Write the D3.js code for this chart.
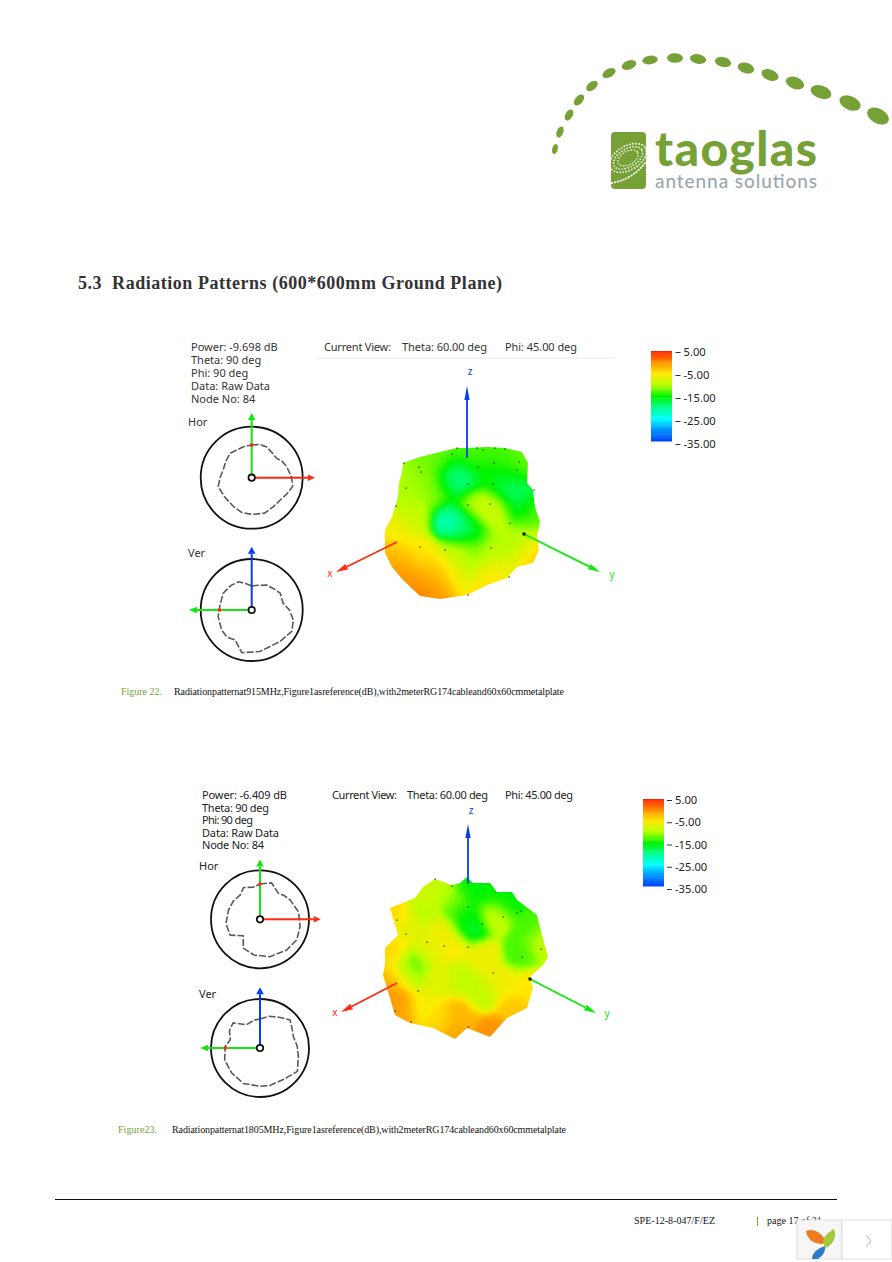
<!DOCTYPE html>
<html><head><meta charset="utf-8"><title>Radiation patterns</title>
<script src="https://cdn.jsdelivr.net/npm/d3@7"></script>
<style>html,body{margin:0;background:#fff}svg{display:block}</style></head>
<body><svg id="c" width="892" height="1262" viewBox="0 0 892 1262"></svg>
<script>
// ---- colour bar ----
const barTicks = [5, -5, -15, -25, -35];
const colorDb = [5, 0, -5, -10, -15, -20, -25, -30, -35];
const colorHex = ["#ff2400","#ff9400","#ffea00","#b4ff00","#00f400","#00ff90","#00ffff","#0090ff","#0040ff"];

// ---- polar cuts: [angle deg clockwise from up, radius as fraction of outer ring] ----
const hor22 = [[0,.64],[13,.67],[26,.67],[40,.63],[52,.62],[62,.68],[72.5,.72],[89,.78],[102,.82],[115,.76],[128,.71],[143,.71],[160,.74],[180,.72],[196,.71],[212,.67],[234,.65],[255,.68],[270,.62],[285,.58],[302,.6],[318,.64],[345,.63]];
const ver22 = [[0,.47],[14,.5],[31,.57],[46,.6],[59.5,.65],[78,.63],[90,.74],[103.5,.84],[118,.89],[138,.83],[155,.8],[169,.83],[193,.86],[209,.67],[222,.72],[236,.71],[259,.67],[276,.63],[300,.65],[320,.63],[335,.61],[346,.54]];
const hor23 = [[0,.72],[17.6,.78],[35,.65],[45,.69],[57,.73],[79,.80],[100,.83],[119,.86],[139,.83],[165,.79],[190,.74],[210,.68],[225.6,.48],[242,.69],[263,.70],[286,.67],[305,.66],[321,.64],[332.5,.73],[348,.67]];
const ver23 = [[0,.59],[15,.67],[30,.73],[47,.84],[60,.76],[71,.72],[87,.76],[102,.80],[122,.90],[143.6,.80],[165,.79],[180,.78],[205,.80],[229,.77],[251.6,.76],[273,.71],[285.5,.63],[300,.72],[313,.75],[330,.55],[348,.58]];

// ---- 3-D view: outlines, sample points [u, v, dB], mesh nodes ----
const outline22 = [[-1,-58],[-10,-58],[-27,-54],[-47,-49],[-64,-43],[-65,-33],[-68,-23],[-69,-9],[-72,1],[-75,11],[-82,24],[-82,47],[-75,61],[-64,74],[-47,90],[-27,93],[0,89],[20,79],[40,72],[50,61],[66,57],[72,44],[70,31],[73,16],[68,1],[66,-16],[60,-23],[61,-43],[55,-54],[38,-58],[20,-59]];
const gain22 = [[-30,-45,-12],[0,-50,-13],[30,-50,-13],[50,-40,-12],[-14,-29,-20],[-8,-25,-20],[43,-19,-20],[20,-33,-15],[35,-30,-16],[-47,-26,-11],[-64,-16,-10],[-30,-15,-11],[3,-3,-8],[26,1,-8],[53,-3,-17],[66,7,-12],[-17,14,-23],[-10,18,-21],[0,24,-15],[-54,11,-9],[-70,24,-6],[-74,44,-3],[-47,47,-5],[-14,44,-8],[3,51,-11],[30,41,-10],[53,34,-10],[66,47,-3],[36,64,-6],[20,71,-5],[0,74,-9],[-27,87,0],[-47,84,1],[-64,67,0],[-40,67,-2],[-20,70,-4],[10,84,-2],[-78,55,-1]];
const nodes22 = [[-10,-58],[-15,-52],[10,-58],[16,-56],[28,-58],[38,-57],[52,-44],[-63,-43],[-48,-39],[-46,-34],[11,-39],[27,-43],[50,-36],[1,-22],[26,-22],[-61,-18],[67,-16],[1,-1],[23,-2],[-71,0],[43,17],[-47,41],[-22,44],[24,42],[42,71],[1,89]];
const outline23 = [[-1,-71],[-8,-65],[-16,-63],[-33,-69],[-45,-61],[-53,-50],[-78,-40],[-73,-23],[-70,-13],[-83,0],[-83,17],[-85,27],[-78,50],[-73,67],[-58,75],[-35,80],[-13,91],[-1,80],[22,89],[39,70],[59,60],[65,40],[62,29],[75,17],[80,9],[74,-13],[69,-33],[49,-48],[44,-56],[29,-56],[22,-65],[5,-65]];
const gain23 = [[-1,-63,-15],[-31,-63,-9],[19,-56,-15],[39,-48,-15],[-15,-40,-14],[2,-20,-17],[-2,-30,-15],[-48,-40,-10],[-20,-50,-10],[-40,-50,-8],[-71,-36,-4],[-28,-20,-6],[-61,-23,-7],[25,-33,-9],[59,-20,-13],[72,-6,-9],[52,4,-13],[-15,-3,-5],[12,7,-6],[-38,0,-7],[-58,17,-13],[-76,4,-4],[-71,30,-2],[-58,27,-10],[-8,27,-9],[-31,30,-7],[32,34,-6],[59,37,-5],[12,44,-9],[-48,54,-6],[-68,60,-1],[-71,50,0],[-31,70,-4],[-8,67,-2],[22,84,0],[45,60,-3],[-15,87,-1]];
const nodes23 = [[-33,-69],[-16,-62],[0,-41],[14,-24],[35,-31],[49,-35],[53,-37],[-71,-28],[-62,-14],[-41,-6],[-24,-2],[0,-1],[73,1],[54,9],[25,25],[-50,43],[-73,63],[-57,74],[0,79]];

// ---- 3-D axis ends: [name, inner u, inner v, tip u, tip v] ----
const axes22 = [["z",0,-48,0,-120],["x",-70,36,-131,66],["y",57,28,133,66]];
const axes23 = [["z",0,-64,0,-124],["x",-71,35,-127,64],["y",62,31,128,65]];

// ---- texts ----
const info22 = ["Power: -9.698 dB","Theta: 90 deg","Phi: 90 deg","Data: Raw Data","Node No: 84"];
const info23 = ["Power: -6.409 dB","Theta: 90 deg","Phi: 90 deg","Data: Raw Data","Node No: 84"];
const heading = "5.3  Radiation Patterns (600*600mm Ground Plane)";
const cap22 = "Radiationpatternat915MHz,Figure1asreference(dB),with2meterRG174cableand60x60cmmetalplate";
const cap23 = "Radiationpatternat1805MHz,Figure1asreference(dB),with2meterRG174cableand60x60cmmetalplate";

// ---- logo swoosh: x, y, half-length, half-width, rotation ----
const swoosh = [[555,149,2.8,5.2,14],[560,132,3.2,5.8,22],[569,115,3.6,6,30],[579,100,3.9,6.5,40],[592,86,4,6.6,52],[609,73,7.2,4.2,-30],[629,65,7.6,4.4,-20],[650,60,7.8,4.4,-8],[675,58,8,4.8,2],[698,59,8.2,4.8,10],[723,62,8.2,5,14],[746,68,8.4,5.2,18],[770,75,8.8,5.4,22],[795,83,9.6,5.8,22],[821,92,10.8,6.4,20],[850,103,11.2,6.8,24],[878,116,11.6,7.4,28]];

const green="#76a136", ui="'Noto Sans',Tahoma,sans-serif", serif="'Liberation Serif',serif";
const AX={x:"#ff2a10",y:"#10e810",z:"#0a3cf0"};
const svg=d3.select("#c");
const defs=svg.append("defs");
defs.append("filter").attr("id","soft").attr("x","-5%").attr("y","-5%").attr("width","110%").attr("height","110%")
  .append("feGaussianBlur").attr("stdDeviation",1.6);
const dbColor=d3.scaleLinear().domain(colorDb).range(colorHex).clamp(true);
const fmt=v=>d3.format(".2f")(v).replace("\u2212","-");

function txt(s,x,y,o={}){return svg.append("text").attr("x",x).attr("y",y).attr("font-family",o.f||ui).attr("font-size",o.s||11)
  .attr("font-weight",o.w||400).attr("fill",o.c||"#222").attr("textLength",o.l||null).attr("lengthAdjust",o.l?"spacing":null).attr("text-anchor",o.a||"start").text(s);}

function arrow(g,x1,y1,x2,y2,col,w,hl,hw){
  const a=Math.atan2(y2-y1,x2-x1),bx=x2-hl*Math.cos(a),by=y2-hl*Math.sin(a),nx=-Math.sin(a),ny=Math.cos(a);
  g.append("line").attr("x1",x1).attr("y1",y1).attr("x2",bx).attr("y2",by).attr("stroke",col).attr("stroke-width",w);
  g.append("path").attr("d",d3.line()([[x2,y2],[bx+nx*hw,by+ny*hw],[bx-nx*hw,by-ny*hw]])+"Z").attr("fill",col);
}

function polar(cx,cy,R,cut,reach,vertical){
  const g=svg.append("g").attr("transform",`translate(${cx},${cy})`);
  const r=d3.scaleLinear().domain([0,1]).range([0,R]);
  g.append("circle").attr("r",r(1)).attr("fill","none").attr("stroke","#111").attr("stroke-width",1.8);
  g.append("path").attr("d",d3.lineRadial().angle(d=>d[0]*Math.PI/180).radius(d=>r(d[1])).curve(d3.curveLinearClosed)(cut))
    .attr("fill","none").attr("stroke","#5a5a5a").attr("stroke-width",1.6).attr("stroke-dasharray","7 2");
  arrow(g,0,0,0,-r(reach[0]),vertical?AX.z:AX.y,2,7,3.8);
  if(vertical) arrow(g,0,0,-r(reach[1]),0,AX.y,2,8,3.2);
  else arrow(g,0,0,r(reach[1]),0,AX.x,2,7,3.2);
  const a0=vertical?cut.reduce((b,d)=>Math.abs(d[0]-270)<Math.abs(b[0]-270)?d:b):cut[0];
  const mx=vertical?-r(a0[1]):0,my=vertical?0:-r(a0[1]);
  g.append("rect").attr("x",mx-1.6).attr("y",my-1.6).attr("width",3.2).attr("height",3.2).attr("fill",AX.x);
  g.append("circle").attr("r",3.2).attr("fill","#fff").attr("stroke","#111").attr("stroke-width",1.8);
}

function blob(id,ox,oy,outline,gain,nodes,axes,lab,sigma){
  const u=d3.scaleLinear().domain([-100,100]).range([ox-100,ox+100]);
  const v=d3.scaleLinear().domain([-100,100]).range([oy-100,oy+100]);
  const line=d3.line().x(d=>u(d[0])).y(d=>v(d[1])).curve(d3.curveLinearClosed);
  defs.append("clipPath").attr("id",id).append("path").attr("d",line(outline));
  const smooth=(a,b)=>{let n=0,m=0;for(const [x,y,db] of gain){const w=Math.exp(-((x-a)*(x-a)+(y-b)*(y-b))/(2*sigma*sigma))+1e-9;n+=w*db;m+=w;}return n/m;};
  const step=3,cells=[];
  for(const a of d3.range(-96,96,step))for(const b of d3.range(-84,105,step))cells.push([a,b]);
  const g=svg.append("g").attr("clip-path",`url(#${id})`).append("g").attr("filter","url(#soft)");
  g.selectAll("rect").data(cells).join("rect").attr("x",d=>u(d[0])).attr("y",d=>v(d[1])).attr("width",step+.4).attr("height",step+.4)
    .attr("fill",d=>dbColor(smooth(d[0],d[1])));
  svg.append("g").selectAll("rect").data(nodes).join("rect").attr("x",d=>u(d[0])-.5).attr("y",d=>v(d[1])-.5).attr("width",1.2).attr("height",1.2).attr("fill","#111");
  const ag=svg.append("g");
  axes.forEach(([n,a,b,c,d])=>{arrow(ag,u(a),v(b),u(c),v(d),AX[n],1.8,n==="z"?14:12,n==="z"?2.6:3);});
  ag.append("rect").attr("x",u(axes[2][1])-1.5).attr("y",v(axes[2][2])-1.5).attr("width",3).attr("height",3).attr("fill","#111");
  lab.forEach(([n,x,y])=>txt(n,x,y,{c:AX[n],s:10,a:"middle"}));
}

function colorbar(x,top,h,tickTop,tickH,tickX){
  const y=d3.scaleLinear().domain([5,-35]).range([tickTop,tickTop+tickH]);
  const bar=d3.scaleLinear().domain([5,-35]).range([top,top+h]);
  const vals=d3.range(5,-35,-.5);
  svg.append("g").selectAll("rect").data(vals).join("rect").attr("x",x).attr("y",d=>bar(d)).attr("width",21)
    .attr("height",bar(0)-bar(.5)+.5).attr("fill",d=>dbColor(d));
  const g=svg.append("g").attr("transform",`translate(${tickX},0)`).call(d3.axisRight(y).tickValues(barTicks).tickSize(5).tickPadding(3).tickFormat(fmt));
  g.select(".domain").remove();
  g.selectAll("line").attr("stroke","#333");
  g.selectAll("text").attr("font-family",ui).attr("font-size",11.2).attr("fill","#222");
}

// ---- logo ----
svg.append("g").selectAll("ellipse").data(swoosh).join("ellipse")
  .attr("cx",d=>d[0]).attr("cy",d=>d[1]).attr("rx",d=>d[2]).attr("ry",d=>d[3])
  .attr("transform",d=>`rotate(${d[4]} ${d[0]} ${d[1]})`).attr("fill",green);
svg.append("rect").attr("x",611).attr("y",132).attr("width",35).attr("height",57).attr("rx",4).attr("fill",green);
[[17,9,1.6],[13,6,1.4],[8,3.6,1.2]].forEach(([a,b,w],i)=>svg.append("ellipse").attr("cx",628).attr("cy",158).attr("rx",a+3).attr("ry",b+3)
  .attr("transform","rotate(-30 628 158)").attr("fill","none").attr("stroke","#fff").attr("stroke-width",w).attr("stroke-dasharray","1.5 1.5"));
svg.append("path").attr("d","M611 183 Q632 180 646 162").attr("fill","none").attr("stroke","#fff").attr("stroke-width",1.8).attr("stroke-dasharray","2 1");
txt("taoglas",655,166,{f:"Lato,sans-serif",s:48,w:900,c:green,l:162});
txt("antenna solutions",655,188,{f:"Lato,sans-serif",s:19,w:500,c:"#9aa7ad",l:162});

// ---- headings ----
txt(heading,78,289,{f:serif,s:18,w:700,c:"#333",l:424}).style("white-space","pre");

// ---- figure 22 ----
info22.forEach((s,i)=>txt(s,191,351+i*13,{c:"#333"}));
txt("Hor",188,426,{c:"#333"}); txt("Ver",188,557,{c:"#333"});
txt("Current View:",324,351,{c:"#333",l:67}); txt("Theta: 60.00 deg",402,351,{c:"#333",l:85}); txt("Phi: 45.00 deg",505,351,{c:"#333",l:72});
svg.append("line").attr("x1",318).attr("x2",615).attr("y1",358).attr("y2",358).attr("stroke","#eeeae6");
polar(251.7,477.7,51,hor22,[1.27,1.24],false);
polar(251.7,610,51,ver22,[1.24,1.23],true);
blob("b22",467,506,outline22,gain22,nodes22,axes22,[["z",470,375],["x",330,577],["y",612,578]],11);
colorbar(651,351,90,352,92,675.5);
txt("Figure 22.",121,695,{f:serif,s:10,c:green,l:41});
txt(cap22,174,695,{f:serif,s:10,c:"#111",l:390});

// ---- figure 23 ----
info23.forEach((s,i)=>txt(s,202,799+i*12.6,{c:"#222",l:[85,67,51,77,62][i]}));
txt("Hor",199,870); txt("Ver",199,998);
txt("Current View:",332,799,{l:65}); txt("Theta: 60.00 deg",407,799,{l:81}); txt("Phi: 45.00 deg",505,799,{l:68});
polar(260,919.3,49,hor23,[1.22,1.24],false);
polar(260,1048,49,ver23,[1.24,1.22],true);
blob("b23",468,948,outline23,gain23,nodes23,axes23,[["z",471,814],["x",335,1016],["y",607,1017]],9);
colorbar(643,799,87,800,89,667);
txt("Figure23.",118,1133,{f:serif,s:10,c:green,l:39});
txt(cap23,172,1133,{f:serif,s:10,c:"#111",l:394});

// ---- footer ----
svg.append("line").attr("x1",55).attr("x2",837).attr("y1",1199.5).attr("y2",1199.5).attr("stroke","#111");
txt("SPE-12-8-047/F/EZ",634,1224,{f:serif,s:10,c:"#111",l:81});
svg.append("line").attr("x1",757.5).attr("x2",757.5).attr("y1",1217).attr("y2",1226).attr("stroke",green);
txt("page 17 of 21",767,1224,{f:serif,s:10,c:"#111"});

// ---- viewer widget ----
svg.append("rect").attr("x",797).attr("y",1220).attr("width",45).attr("height",39).attr("fill","#f6f6f6").attr("stroke","#ddd");
svg.append("rect").attr("x",842).attr("y",1220).attr("width",50).attr("height",39).attr("fill","#fff").attr("stroke","#ddd");
svg.append("path").attr("d","M866 1235 L871 1241 L866 1247").attr("fill","none").attr("stroke","#bbb");
svg.append("path").attr("d","M806 1231 Q816 1227 824 1238 Q825 1245 821 1244 Q808 1243 806 1231Z").attr("fill","#ee7a22");
svg.append("path").attr("d","M834 1229 Q838 1241 826 1248 Q818 1238 834 1229Z").attr("fill","#a4c83c");
svg.append("path").attr("d","M825 1246 Q826 1254 818 1259 L812 1259 Q812 1250 825 1246Z").attr("fill","#2a7cc8");
</script></body></html>
